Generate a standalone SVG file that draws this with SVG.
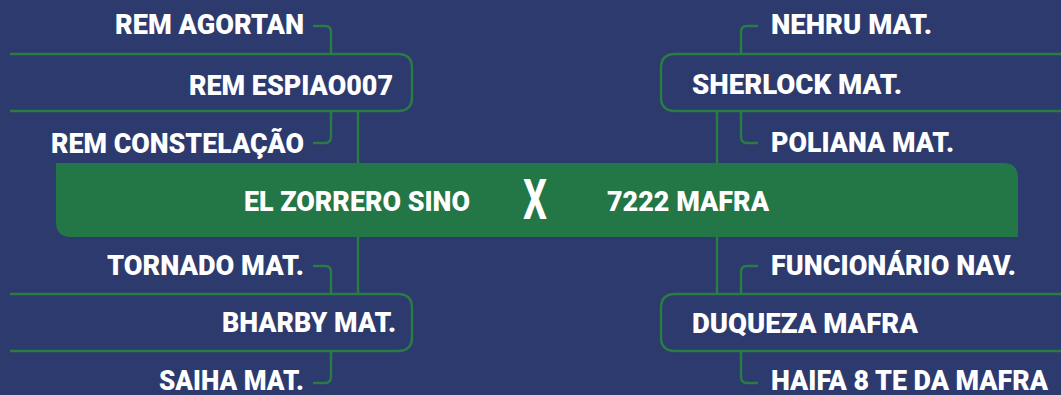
<svg xmlns="http://www.w3.org/2000/svg" width="1061" height="395" viewBox="0 0 1061 395">
<style>
.t{font-family:Roboto,"Liberation Sans",sans-serif;font-weight:900;font-size:27px;fill:#ffffff}
.x{font-family:Roboto,"Liberation Sans",sans-serif;font-weight:700;font-size:55px;fill:#ffffff}
.c{fill:none;stroke:#2a7d42;stroke-width:2.4}
</style>
<rect width="1061" height="395" fill="#2d3a6e"/>
<g id="connectors">
<path class="c" d="M358 112V163M358 237V294M717 112V163M717 237V294"/>
<path class="c" d="M313 26H325Q331 26 331 32V54M331 111V137Q331 143 325 143H313"/>
<path class="c" d="M313 266H325Q331 266 331 272V294M331 351V377Q331 383 325 383H313"/>
<path class="c" d="M758 26H747Q741 26 741 32V54M741 111V137Q741 143 747 143H758"/>
<path class="c" d="M758 266H747Q741 266 741 272V294M741 351V377Q741 383 747 383H758"/>
</g>
<g id="main">
<path d="M56 163H1003Q1018 163 1018 178V237H71Q56 237 56 222Z" fill="#237646"/>
<text class="t" x="244" y="211" textLength="226" lengthAdjust="spacingAndGlyphs">EL ZORRERO SINO</text>
<text class="x" x="523" y="219" textLength="24" lengthAdjust="spacingAndGlyphs">X</text>
<text class="t" x="607" y="211" textLength="162" lengthAdjust="spacingAndGlyphs">7222 MAFRA</text>
</g>
<g id="rem-espiao007">
<path class="c" d="M10 54H398Q412 54 412 68V97Q412 111 398 111H10"/>
<text class="t" x="189" y="95" textLength="204" lengthAdjust="spacingAndGlyphs">REM ESPIAO007</text>
</g>
<g id="rem-agortan"><text class="t" x="115" y="34" textLength="189" lengthAdjust="spacingAndGlyphs">REM AGORTAN</text></g>
<g id="rem-constelacao"><text class="t" x="51" y="153" textLength="253" lengthAdjust="spacingAndGlyphs">REM CONSTELAÇÃO</text></g>
<g id="bharby">
<path class="c" d="M10 294H398Q412 294 412 308V337Q412 351 398 351H10"/>
<text class="t" x="222" y="332" textLength="174" lengthAdjust="spacingAndGlyphs">BHARBY MAT.</text>
</g>
<g id="tornado"><text class="t" x="107" y="275" textLength="197" lengthAdjust="spacingAndGlyphs">TORNADO MAT.</text></g>
<g id="saiha"><text class="t" x="159" y="390" textLength="145" lengthAdjust="spacingAndGlyphs">SAIHA MAT.</text></g>
<g id="sherlock">
<path class="c" d="M1061 54H675Q661 54 661 68V97Q661 111 675 111H1061"/>
<text class="t" x="692" y="94" textLength="210" lengthAdjust="spacingAndGlyphs">SHERLOCK  MAT.</text>
</g>
<g id="nehru"><text class="t" x="771" y="34" textLength="161" lengthAdjust="spacingAndGlyphs">NEHRU MAT.</text></g>
<g id="poliana"><text class="t" x="771" y="152" textLength="183" lengthAdjust="spacingAndGlyphs">POLIANA MAT.</text></g>
<g id="duqueza">
<path class="c" d="M1061 294H675Q661 294 661 308V337Q661 351 675 351H1061"/>
<text class="t" x="692" y="333" textLength="226" lengthAdjust="spacingAndGlyphs">DUQUEZA MAFRA</text>
</g>
<g id="funcionario"><text class="t" x="771" y="275" textLength="245" lengthAdjust="spacingAndGlyphs">FUNCIONÁRIO NAV.</text></g>
<g id="haifa"><text class="t" x="771" y="390" textLength="277" lengthAdjust="spacingAndGlyphs">HAIFA 8 TE DA MAFRA</text></g>
</svg>
